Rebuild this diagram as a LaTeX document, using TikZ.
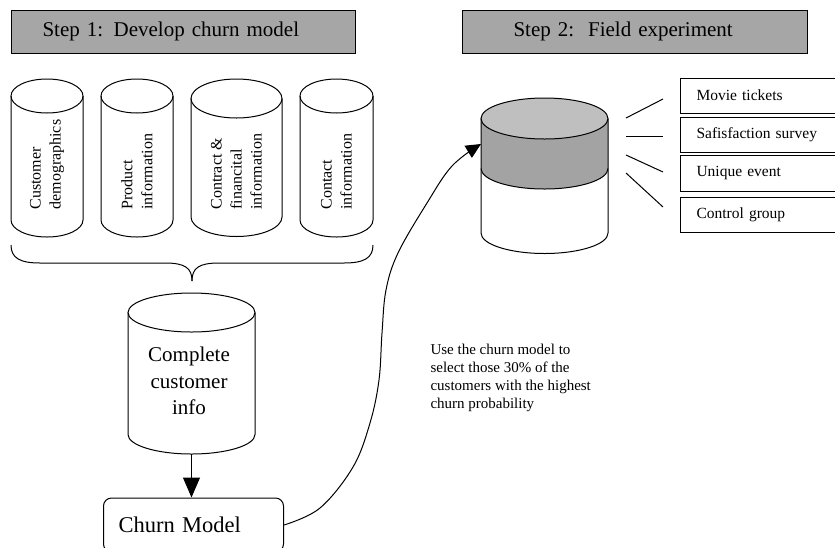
\documentclass[tikz,border=0pt]{standalone}
\usepackage{fontspec}
\setmainfont{Liberation Serif}
\usetikzlibrary{arrows.meta}
\definecolor{hdrgray}{RGB}{166,166,166}
\definecolor{topgray}{RGB}{191,191,191}
\definecolor{bandgray}{RGB}{163,163,163}
\newcommand\dbcyl[5]{%
  \draw[cylline] (#1,#2) ellipse[x radius=#4pt, y radius=#5pt];
  \draw[cylline] (#1-#4,#2) -- (#1-#4,#3) arc[start angle=180,end angle=360,x radius=#4pt,y radius=#5pt] -- (#1+#4,#2);
}
\begin{document}
\begin{tikzpicture}[x=1pt,y=-1pt,line width=1pt,
  cylline/.style={line width=1pt},
  header/.style={draw,fill=hdrgray,minimum height=43pt,anchor=west,align=left,
     font=\fontsize{21}{25}\selectfont},
  dbtext/.style={rotate=90,anchor=west,align=left,inner sep=0pt,font=\fontsize{16}{20}\selectfont},
  optbox/.style={draw,anchor=west,align=left,minimum height=35pt,text width=140pt,inner xsep=16pt,
     font=\fontsize{15.5}{18}\selectfont},
  note/.style={align=left,anchor=north west,inner sep=0pt,font=\fontsize{15}{18}\selectfont},
  bigtip/.style={-{Triangle[length=20pt,width=17pt]}},
  smalltip/.style={-{Triangle[length=15pt,width=14pt]}}]
\useasboundingbox (0,0) rectangle (835,547);
\clip (0,0) rectangle (835,547);

% headers
\node[header,minimum width=344pt,text width=282pt,inner xsep=31pt] (h1) at (11,31.5) {Step 1: Develop churn model};
\node[header,minimum width=345pt,text width=243pt,inner xsep=51pt] (h2) at (462,31.5) {Step 2:\ \ Field experiment};

% step 1 data cylinders
\dbcyl{47}{96}{220}{36}{17}
\dbcyl{137}{96}{220}{36}{17}
\dbcyl{236.5}{98.5}{217}{45.5}{19.5}
\dbcyl{336.5}{96}{220}{36.5}{17}
\node[dbtext] (d1) at (47,210) {Customer\\demographics};
\node[dbtext] (d2) at (137,210) {Product\\information};
\node[dbtext] (d3) at (236.5,210) {Contract \&\\financital\\information};
\node[dbtext] (d4) at (336.5,210) {Contact\\information};

% brace
\draw (11,245) .. controls (11,258) and (20,263) .. (40,263) -- (165,263)
  .. controls (185,263) and (192,268) .. (192,281);
\draw (373,245) .. controls (373,258) and (364,263) .. (344,263) -- (219,263)
  .. controls (199,263) and (192,268) .. (192,281);

% complete customer info cylinder
\dbcyl{191.5}{312.5}{434.5}{63.5}{19.5}
\node[align=center,font=\fontsize{21}{26.5}\selectfont,inner sep=0pt] (info) at (189,381) {Complete\\customer\\info};
\coordinate (infobot) at (191.5,454);

% churn model box
\node[draw,rounded corners=8pt,minimum height=54pt,text width=150pt,inner xsep=15pt,align=left,
  anchor=west,font=\fontsize{22.5}{26}\selectfont] (churn) at (103,525) {Churn Model};
\draw[bigtip] (infobot) -- (churn.north -| infobot);

% step 2 cylinder
\fill[bandgray] (481,118.5) -- (481,168.5) arc[start angle=180,end angle=360,x radius=63.5pt,y radius=20.5pt]
  -- (608,118.5) arc[start angle=0,end angle=-180,x radius=63.5pt,y radius=20.5pt] -- cycle;
\draw[cylline,fill=topgray] (544.5,118.5) ellipse[x radius=63.5pt,y radius=20.5pt];
\draw[cylline] (481,118.5) -- (481,233) arc[start angle=180,end angle=360,x radius=63.5pt,y radius=20.5pt] -- (608,118.5);
\draw[cylline] (481,168.5) arc[start angle=180,end angle=360,x radius=63.5pt,y radius=20.5pt];
\coordinate (cylL) at (481,144);

% selection curve
\draw[smalltip] plot[smooth,tension=0.6] coordinates {(churn.east) (320,508) (353,467) (370,423)
  (379,380) (382,333) (386,290) (398,253) (427,203) (452,166) (cylL)};
\node[note] (sel) at (430,344) {Use the churn model to\\select those 30\% of the\\customers with the highest\\churn probability};

% treatment boxes
\node[optbox] (o1) at (680,95.5) {Movie tickets};
\node[optbox] (o2) at (680,134.5) {Safisfaction survey};
\node[optbox,minimum height=36pt] (o3) at (680,173) {Unique event};
\node[optbox] (o4) at (680,214.5) {Control group};

% fan lines
\draw (626,118) -- (663,99);
\draw (626,136) -- (663,136);
\draw (626,155) -- (663,172);
\draw (626,173) -- (663,207);
\end{tikzpicture}
\end{document}
